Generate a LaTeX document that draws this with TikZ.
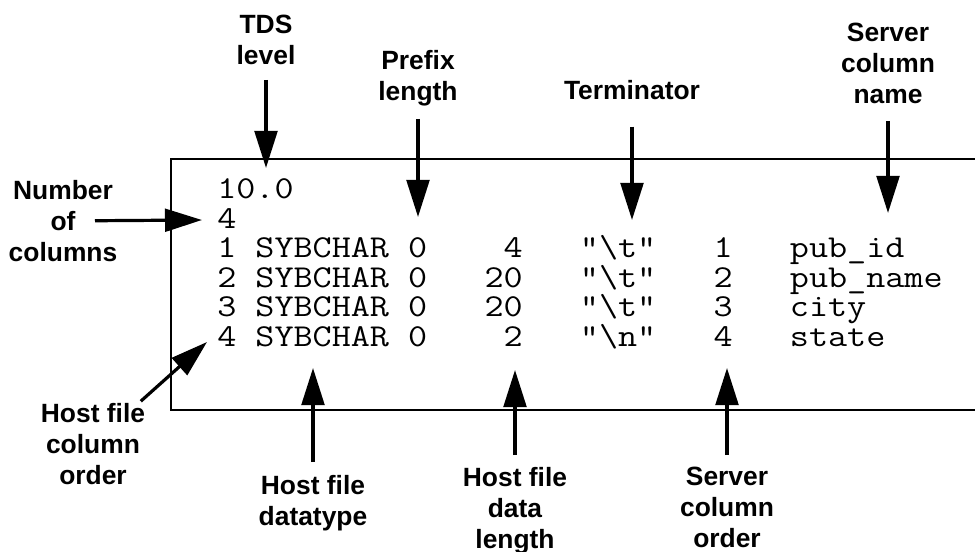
\documentclass[tikz,border=0pt]{standalone}
\usepackage{fontspec}
\setsansfont{Liberation Sans}
\usepackage{graphicx}
\usetikzlibrary{arrows.meta}
\newcommand{\squash}[1]{\scalebox{1}[0.86]{#1}}

\begin{document}
\begin{tikzpicture}[x=0.75pt, y=-0.75pt,
		lbl/.style={anchor=north, inner sep=0pt, align=center, font=\fontsize{19.8pt}{23.25pt}\sffamily\bfseries},
		code/.style={anchor=base west, inner sep=0pt, font=\fontsize{27.8pt}{27.8pt}\selectfont\ttfamily},
		arr/.style={line width=2.4pt, -{Triangle[length=27.75pt, width=17pt]}},
		frame/.style={line width=1.5pt}]
	\useasboundingbox (0,0) rectangle (975,552);

	% the bcp format file
	\draw[frame] (975,159) -- (171,159) -- (171,410) -- (975,410);
	\node[code] (r0) at (217,199)	{\squash{10.0}};
	\node[code] (r1) at (217,228.5)	{\squash{4}};
	\node[code] (r2) at (217,258)	{\squash{1~SYBCHAR~0~~~~4~~~"\textbackslash{}t"~~~1~~~pub\_id}};
	\node[code] (r3) at (217,287.5)	{\squash{2~SYBCHAR~0~~~20~~~"\textbackslash{}t"~~~2~~~pub\_name}};
	\node[code] (r4) at (217,317)	{\squash{3~SYBCHAR~0~~~20~~~"\textbackslash{}t"~~~3~~~city}};
	\node[code] (r5) at (217,346.5)	{\squash{4~SYBCHAR~0~~~~2~~~"\textbackslash{}n"~~~4~~~state}};

	% labels
	\node[lbl] (tds) at (266,15)	{TDS\\level};
	\node[lbl] (prefix) at (418,50)	{Prefix\\length};
	\node[lbl] (term) at (632,80)	{Terminator};
	\node[lbl] (sname) at (888,23)	{Server\\column\\name};
	\node[lbl] (ncols) at (63,180)	{Number\\of\\columns};
	\node[lbl] (hcol) at (93,403)	{Host file\\column\\order};
	\node[lbl] (htype) at (313,475)	{Host file\\datatype};
	\node[lbl] (hlen) at (515,467)	{Host file\\data\\length};
	\node[lbl] (sord) at (727,467)	{Server\\column\\order};

	% arrow tips
	\coordinate (tdstip) at (266,168);
	\coordinate (prefixtip) at (418,217);
	\coordinate (termtip) at (632,220);
	\coordinate (snametip) at (888,213);
	\coordinate (ncolstip) at (202,220);
	\coordinate (hcoltip) at (207,342);
	\coordinate (htypetip) at (313,368);
	\coordinate (hlentip) at (515,370);
	\coordinate (sordtip) at (727,368);

	\draw[arr, shorten <=11pt] (tds) -- (tdstip);
	\draw[arr, shorten <=9.5pt] (prefix) -- (prefixtip);
	\draw[arr, shorten <=20pt] (term) -- (termtip);
	\draw[arr, shorten <=12.5pt] (sname) -- (snametip);
	\draw[arr, shorten <=24pt] (ncols.center) -- (ncolstip);
	\draw[arr, shorten <=2pt] (hcol) -- (hcoltip);
	\draw[arr, shorten <=9.75pt] (htype) -- (htypetip);
	\draw[arr, shorten <=9pt] (hlen) -- (hlentip);
	\draw[arr, shorten <=9pt] (sord) -- (sordtip);
\end{tikzpicture}
\end{document}
